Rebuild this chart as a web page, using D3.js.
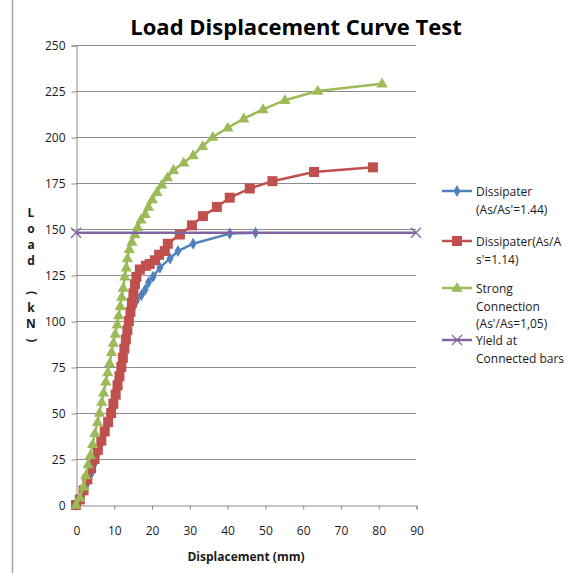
<!DOCTYPE html>
<html>
<head>
<meta charset="utf-8">
<script src="https://cdn.jsdelivr.net/npm/d3@7"></script>
<style>
  html, body { margin: 0; padding: 0; background: #fff; }
  svg { display: block; }
</style>
</head>
<body>
<svg id="chart" width="565" height="573"></svg>
<script>
// ---- Data ----
const chartTitle = "Load Displacement Curve Test";
const xTitle = "Displacement (mm)";
const yTitleChars = ["L", "o", "a", "d", " ", "(", "k", "N", ")"];
const xTicks = [0, 10, 20, 30, 40, 50, 60, 70, 80, 90];
const yTicks = [0, 25, 50, 75, 100, 125, 150, 175, 200, 225, 250];

const seriesNames = [
  ["Dissipater", "(As/As'=1.44)"],
  ["Dissipater(As/A", "s'=1.14)"],
  ["Strong", "Connection", "(As'/As=1,05)"],
  ["Yield at", "Connected bars"]
];

// [displacement mm, load kN]
const dissipater144 = [
  [0,0],[1,3],[2,7],[3,12],[4,17],[5,23],[5.8,28],[6.6,33],[7.4,38],[8.2,44],
  [9,50],[9.7,56],[10.4,62],[11,68],[11.6,74],[12.2,80],[12.8,86],[13.4,92],
  [14,98],[14.6,104],[15.3,108],[16,111],[17.3,114],[18.3,117],[19.2,121],
  [20.4,124],[22.2,129],[24.9,134],[27,138],[31,142],[40.7,147.5],[47.5,148]
];
const dissipater114 = [
  [0,0],[1,3],[2,8],[3,14],[4,20],[4.9,25],[5.8,30],[6.7,35],[7.6,40],[8.5,45],
  [9.3,50],[9.9,55],[10.5,60],[11,65],[11.5,70],[12,75],[12.4,80],[12.8,85],
  [13.2,90],[13.6,95],[14,100],[14.4,105],[14.8,110],[15.2,115],[15.6,120],
  [16,124],[16.9,128],[18.5,130],[19.5,131],[20.9,133],[22,136],[23.5,138],
  [24.3,142],[27.5,147],[30.7,152],[33.6,157],[37.3,162],[40.7,167],[46,172],
  [52,176],[63,181],[78.6,183.5]
];
const strongConnection = [
  [0,0],[1,4],[2,10],[2.6,16],[3.2,22],[3.8,27],[4.4,33],[5,39],[5.7,45],
  [6.2,50],[6.8,56],[7.3,61],[7.9,67],[8.4,72],[8.9,77],[9.4,83],[9.9,88],
  [10.4,93],[10.9,98],[11.3,103],[11.7,108],[12.1,113],[12.5,118],[12.9,124],
  [13.3,129],[13.6,134],[14.1,139],[14.8,143],[15.6,147],[16.3,151],[17.2,155],
  [18.3,158],[19.2,162],[20.2,166],[21.4,170],[22.7,174],[24.2,178],[25.8,182],
  [28.5,186],[31,190],[33.5,195],[36.2,200],[40.2,205],[44.4,210],[49.5,215],
  [55.3,220],[64,225],[81,229]
];
const yieldConnected = [[0,148],[90,148]];

const colors = ["#4F81BD", "#C0504D", "#9BBB59", "#8064A2"];
const markers = ["diamond", "square", "triangle", "x"];

// ---- Layout ----
const svg = d3.select("#chart");
const plot = { left: 76, right: 416, top: 45, bottom: 505 };
const x = d3.scaleLinear().domain([0, 90]).range([plot.left, plot.right]);
const y = d3.scaleLinear().domain([0, 250]).range([plot.bottom, plot.top]);
const fontFam = "'Open Sans', 'Liberation Sans', sans-serif";

// frame line on the left
svg.append("line").attr("x1", 12.5).attr("x2", 12.5).attr("y1", 0).attr("y2", 573)
  .attr("stroke", "#a6a6a6").attr("stroke-width", 1.5);

// gridlines
svg.append("g").selectAll("line").data(yTicks.filter(d => d > 0)).join("line")
  .attr("x1", plot.left).attr("x2", plot.right)
  .attr("y1", d => Math.round(y(d)) + 0.5).attr("y2", d => Math.round(y(d)) + 0.5)
  .attr("stroke", "#8c8c8c").attr("stroke-width", 1);

// Y axis
const yAxis = d3.axisLeft(y).tickValues(yTicks).tickSize(5).tickPadding(6);
const gy = svg.append("g").attr("transform", `translate(${plot.left + 0.5},0.5)`).call(yAxis);
gy.select(".domain").attr("stroke", "#8c8c8c");
gy.selectAll(".tick line").attr("stroke", "#8c8c8c");
gy.selectAll("text").attr("font-family", fontFam).attr("font-size", 12).attr("fill", "#1a1a1a");

// X axis
const xAxis = d3.axisBottom(x).tickValues(xTicks).tickSize(4).tickPadding(17).tickFormat(d3.format("d"));
const gx = svg.append("g").attr("transform", `translate(0.5,${plot.bottom + 0.5})`).call(xAxis);
gx.select(".domain").attr("stroke", "#8c8c8c");
gx.selectAll(".tick line").attr("stroke", "#8c8c8c");
gx.selectAll("text").attr("font-family", fontFam).attr("font-size", 12).attr("fill", "#1a1a1a");

// Titles
svg.append("text").attr("x", 296).attr("y", 35).attr("text-anchor", "middle")
  .attr("font-family", fontFam).attr("font-weight", "bold").attr("font-size", 22)
  .attr("fill", "#000").text(chartTitle);

svg.append("text").attr("x", 246).attr("y", 561).attr("text-anchor", "middle")
  .attr("font-family", fontFam).attr("font-weight", "bold").attr("font-size", 12)
  .attr("fill", "#1a1a1a").text(xTitle);

const yt = svg.append("g");
yTitleChars.forEach((c, i) => {
  const cy = 214 + i * 15.8;
  const t = yt.append("text").attr("x", 31).attr("y", cy).attr("text-anchor", "middle")
    .attr("dominant-baseline", "middle")
    .attr("font-family", fontFam).attr("font-weight", "bold").attr("font-size", 12)
    .attr("fill", "#1a1a1a").text(c);
  if (c === "(" || c === ")") t.attr("transform", `rotate(90,31,${cy})`);
});

// ---- Series ----
function drawMarker(g, type, color, cx, cy) {
  if (type === "diamond") {
    g.append("path").attr("d", d3.symbol(d3.symbolDiamond, 42)())
      .attr("transform", `translate(${cx},${cy})`).attr("fill", color);
  } else if (type === "square") {
    g.append("rect").attr("x", cx - 5).attr("y", cy - 5).attr("width", 10).attr("height", 10)
      .attr("fill", color);
  } else if (type === "triangle") {
    g.append("path").attr("d", d3.symbol(d3.symbolTriangle, 56)())
      .attr("transform", `translate(${cx},${cy + 0.5})`).attr("fill", color);
  } else if (type === "x") {
    g.append("path").attr("d", `M${cx - 5},${cy - 5}L${cx + 5},${cy + 5}M${cx - 5},${cy + 5}L${cx + 5},${cy - 5}`)
      .attr("stroke", color).attr("stroke-width", 1.3).attr("fill", "none");
  }
}

const line = d3.line().x(d => x(d[0])).y(d => y(d[1]));
const allSeries = [dissipater144, dissipater114, strongConnection, yieldConnected];

allSeries.forEach((data, i) => {
  const g = svg.append("g");
  g.append("path").datum(data).attr("d", line).attr("fill", "none")
    .attr("stroke", colors[i]).attr("stroke-width", 2.5).attr("stroke-linejoin", "round");
  data.forEach(d => drawMarker(g, markers[i], colors[i], x(d[0]), y(d[1])));
});

// ---- Legend ----
const legendY = [191, 241, 288, 340];
const legend = svg.append("g");
seriesNames.forEach((lines, i) => {
  const ly = legendY[i];
  legend.append("line").attr("x1", 442).attr("x2", 472).attr("y1", ly).attr("y2", ly)
    .attr("stroke", colors[i]).attr("stroke-width", 2.5);
  drawMarker(legend, markers[i], colors[i], 457, ly);
  lines.forEach((t, k) => {
    legend.append("text").attr("x", 476).attr("y", ly + 5 + k * 17.5)
      .attr("font-family", fontFam).attr("font-size", 12).attr("fill", "#1a1a1a").text(t);
  });
});
</script>
</body>
</html>
